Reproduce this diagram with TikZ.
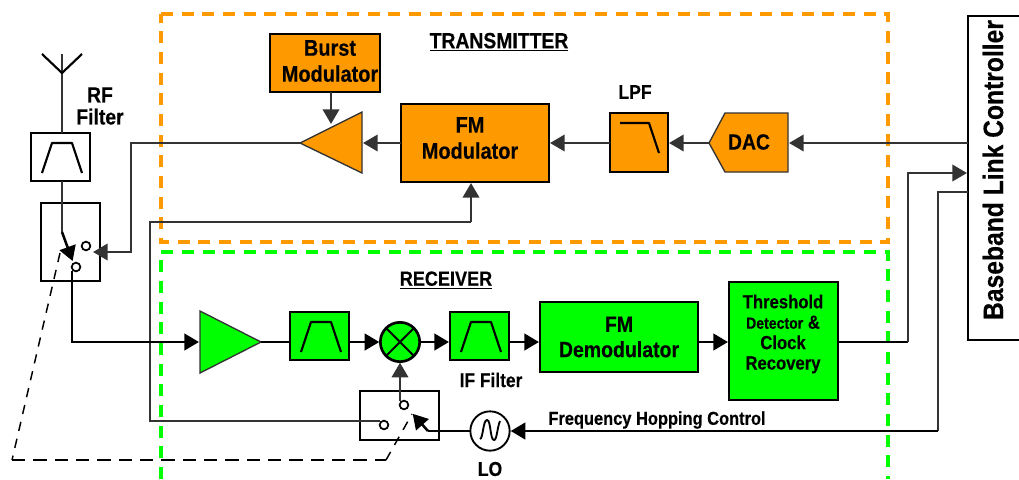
\documentclass[tikz,border=0pt]{standalone}
\usepackage{fontspec}
\setmainfont[FakeStretch=0.88,BoldFeatures={FakeStretch=0.88,FakeBold=0.35}]{Liberation Sans}
\usetikzlibrary{arrows.meta,calc}
\definecolor{org}{HTML}{FF9900}
\definecolor{grn}{HTML}{00FF00}
\definecolor{wirec}{HTML}{333333}
\tikzset{
 x=0.75pt,y=-0.75pt,
 box/.style={draw=black,line width=2.1pt,inner sep=0pt,outer sep=0pt,anchor=north west},
 wire/.style={draw=wirec,line width=1.35pt},
 fwire/.style={draw=black,line width=1.9pt},
 arr/.style={-{Triangle[length=11pt,width=12.5pt]},shorten >=0.8pt},
 txt/.style={font=\bfseries\fontsize{17}{19.5}\selectfont,align=center,inner sep=0pt},
 thrtxt/.style={font=\bfseries\fontsize{14.2}{15.3}\selectfont,align=center,inner sep=0pt},
 zone/.style={line width=2.6pt,dash pattern=on 9pt off 6.5pt},
 contact/.style={circle,draw=black,line width=1.3pt,fill=white,minimum size=6.5pt,inner sep=0pt,outer sep=0pt},
 ctrl/.style={draw=black,line width=1.3pt,dash pattern=on 10pt off 6pt},
 ctrls/.style={draw=black,line width=1.1pt,dash pattern=on 7pt off 6pt},
 glyph/.style={draw=black,line width=1.6pt,line join=round},
 round node/.style={circle,draw=black,inner sep=0pt,outer sep=0pt,minimum size=29.5pt}
}
\newcommand{\bx}[6]{\node[box,fill=#1,minimum width=#4*0.75pt,minimum height=#5*0.75pt] (#2) at #3 {#6};}
\begin{document}
\begin{tikzpicture}
\useasboundingbox (0,0) rectangle (1019,479);
% zones
\draw[zone,org] (161,14) -- (888,14) -- (888,242) -- (161,242) -- cycle;
\draw[zone,grn] (161,479) -- (161,252) -- (888,252) -- (888,479);
% blocks
\bx{white}{rf}{(31,133)}{59}{48}{}
\bx{white}{sw1}{(41,203)}{59}{78}{}
\coordinate (dl) at (12,460); \coordinate (dm) at (386,460);
\coordinate (swTtip) at (60,253); \coordinate (swBtip) at (412,414);
\bx{org}{burst}{(270,34)}{110}{58}{}
\bx{org}{fmmod}{(401,104)}{148}{78}{}
\bx{org}{lpf}{(610,113)}{58}{59}{}
\bx{white}{bb}{(968,16)}{60}{324}{}
\bx{grn}{bpf}{(290,312)}{59}{48}{}
\bx{grn}{iff}{(450,312)}{59}{48}{}
\bx{grn}{dem}{(540,302)}{158}{70}{}
\bx{grn}{thr}{(729,282)}{109}{118}{}
\bx{white}{sw2}{(360,391)}{79}{49}{}
\draw[ctrls] (swTtip) -- (dl);
\draw[ctrl] (dl) -- (dm);
\draw[ctrls] (dm) -- (swBtip);
% shapes
\filldraw[draw=wirec,line width=1pt,fill=org] (709,143) -- (725,113) -- (788,113) -- (788,172) -- (725,172) -- cycle;
\coordinate (dacL) at (709,143); \coordinate (dacR) at (788,143);
\filldraw[draw=wirec,line width=1pt,fill=org] (300,143) -- (362,112) -- (362,173) -- cycle;
\coordinate (txaL) at (300,143); \coordinate (txaR) at (362,143); \coordinate (txaT) at (331,125);
\filldraw[draw=wirec,line width=1pt,fill=grn] (200,311) -- (261,342) -- (200,373) -- cycle;
\coordinate (rxaL) at (200,342); \coordinate (rxaR) at (261,342);
\node[round node,line width=2pt,fill=grn] (mix) at (400,342) {};
\draw[line width=1.4pt] (mix.45) -- (mix.225) (mix.135) -- (mix.315);
\node[round node,line width=1.4pt,fill=white] (lo) at (490,431) {};
\draw[line width=1.4pt] (480,439) .. controls (483,439) and (483,420) .. (487,420) .. controls (491,420) and (490,440) .. (494,440) .. controls (497,440) and (497,428) .. (500,421);
% antenna
\coordinate (antTop) at (62,54); \coordinate (antV) at (62,73);
\draw[wire] (antTop) -- (rf.north -| antTop);
\draw[glyph] (42,54) -- (antV) -- (82,54);
% filter glyphs
\foreach \ox/\oy in {31/133,290/312,450/312}{
 \draw[glyph] (\ox+11,\oy+40) -- (\ox+21,\oy+10) -- (\ox+41,\oy+10) -- (\ox+51,\oy+40);
}
\draw[glyph] (620,123) -- (649,123) -- (659,153);
% first switch
\coordinate (sw1p) at (62,232); \coordinate (sw1tip) at (73,262);
\node[contact] (c1a) at (86,246) {};
\node[contact] (c1b) at (76,267) {};
\draw[wire] (rf.south -| sw1p) -- (sw1p);
\draw[fwire,arr] (sw1p) -- (sw1tip);
% second switch
\node[contact] (c2a) at (404,405) {};
\node[contact] (c2b) at (384,425) {};
\coordinate (sw2k) at (428,431);
\draw[fwire] (lo.west) -- (sw2k);
\draw[fwire,arr] (sw2k) -- (412,413);
% connectors
\draw[wire,arr] (bb.west |- dacR) -- (dacR);
\draw[wire,arr] (dacL) -- (lpf.east |- dacL);
\draw[wire,arr] (lpf.west |- dacL) -- (fmmod.east |- dacL);
\draw[wire,arr] (fmmod.west |- dacL) -- (txaR);
\draw[wire,arr] (burst.south -| txaT) -- (txaT);
\coordinate (a1) at (131,143); \coordinate (a2) at (131,252); \coordinate (a3) at (92,252);
\draw[wire,arr] (txaL) -- (a1) -- (a2) -- (a3);
\coordinate (b1) at (150,421); \coordinate (b2) at (150,222); \coordinate (b3) at (471,222);
\draw[wire] (c2b.west |- b1) -- (b1) -- (b2) -- (b3);
\draw[wire,arr] (b3) -- (fmmod.south -| b3);
\coordinate (r1) at (72,342);
\draw[fwire,arr] (c1b.south -| r1) -- (r1) -- (rxaL);
\draw[fwire] (rxaR) -- (bpf.west |- rxaR);
\draw[fwire,arr] (bpf.east |- mix) -- (mix.west);
\draw[fwire,arr] (mix.east) -- (iff.west |- mix);
\draw[fwire,arr] (iff.east |- mix) -- (dem.west |- mix);
\draw[fwire,arr] (dem.east |- mix) -- (thr.west |- mix);
\coordinate (t1) at (908,342); \coordinate (t2) at (908,173);
\draw[fwire] (thr.east |- t1) -- (t1);
\draw[wire,arr] (t1) -- (t2) -- (bb.west |- t2);
\coordinate (h1) at (938,192); \coordinate (h2) at (938,431);
\draw[wire] (bb.west |- h1) -- (h1) -- (h2);
\draw[fwire,arr] (h2) -- (lo.east);
\draw[wire,arr] (c2a.north -| mix) -- (mix.south);
% box texts
\node[txt] (tburst) at (330,61) {Burst\\Modulator};
\node[txt] (tfm) at (470,138) {FM\\Modulator};
\node[txt,font=\bfseries\fontsize{16.6}{19}\selectfont] (tdem) at (619,337) {FM\\Demodulator};
\node[thrtxt] (tthr) at (783,334) {Threshold\\{\fontsize{12}{15.3}\selectfont Detector} \&\\Clock\\Recovery};
\node[txt,font=\bfseries\fontsize{16.5}{18}\selectfont] (dac) at (749,142) {DAC};
% labels
\node[txt,font=\bfseries\fontsize{16.5}{16.5}\selectfont] (lrf) at (100,106) {RF\\Filter};
\node[txt,font=\bfseries\fontsize{16.5}{18}\selectfont] (ltx) at (499,42) {\underline{TRANSMITTER}};
\node[txt,font=\bfseries\fontsize{15}{18}\selectfont] (llpf) at (635,92) {LPF};
\node[txt,font=\bfseries\fontsize{15.4}{18}\selectfont] (lrx) at (446,280) {\underline{RECEIVER}};
\node[txt,font=\bfseries\fontsize{14.8}{18}\selectfont] (lif) at (491,380) {IF Filter};
\node[txt,font=\bfseries\fontsize{14}{18}\selectfont] (lfh) at (657,420) {Frequency Hopping Control};
\node[txt,font=\bfseries\fontsize{15}{18}\selectfont] (llo) at (490,469) {LO};
\node[font=\bfseries\fontsize{21}{23}\selectfont,rotate=90,inner sep=0pt] (lbb) at (993,170) {Baseband Link Controller};
\end{tikzpicture}
\end{document}
